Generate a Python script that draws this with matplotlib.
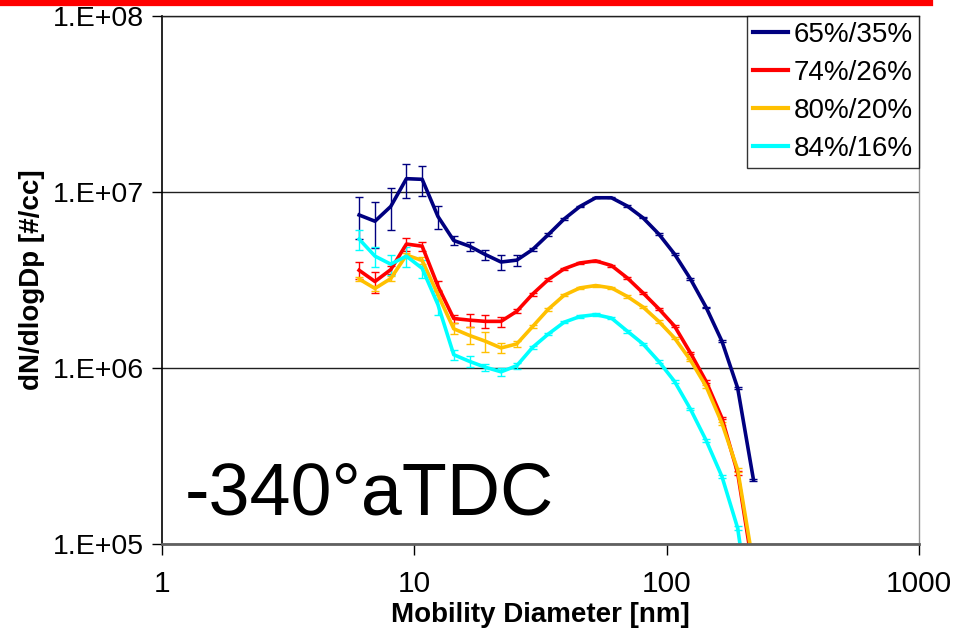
import math
import matplotlib
matplotlib.use("Agg")
import matplotlib.pyplot as plt
from matplotlib.ticker import FixedLocator, FuncFormatter, NullLocator
from matplotlib.lines import Line2D

plt.rcParams['font.family'] = ['Liberation Sans', 'DejaVu Sans']

# mobility diameters of the SMPS bins [nm]
diam = [6.04, 6.98, 8.06, 9.30, 10.74, 12.40, 14.32, 16.54, 19.10, 22.06,
        25.47, 29.42, 33.97, 39.23, 45.30, 52.32, 60.41, 69.76, 80.56, 93.03,
        107.4, 124.1, 143.3, 165.5, 191.1, 220.7]

labels = ['65%/35%', '74%/26%', '80%/20%', '84%/16%']
colors = ['#000080', '#FF0000', '#FFC000', '#00FFFF']

dn_65 = [7.40e6, 6.82e6, 8.27e6, 1.19e7, 1.18e7, 7.26e6, 5.30e6, 4.92e6, 4.41e6, 4.00e6,
         4.10e6, 4.71e6, 5.73e6, 7.02e6, 8.27e6, 9.27e6, 9.27e6, 8.32e6, 7.13e6, 5.77e6,
         4.44e6, 3.21e6, 2.21e6, 1.42e6, 7.69e5, 2.32e5]
err_65 = [2.0e6, 2.0e6, 2.2e6, 2.6e6, 2.3e6, 1.1e6, 3.0e5, 3.0e5, 3.0e5, 3.8e5,
          3.0e5, 1.0e5, 8.0e4, 8.0e4, 8.0e4, 7.0e4, 7.0e4, 7.0e4, 6.0e4, 5.0e4,
          4.0e4, 3.0e4, 2.0e4, 1.5e4, 8.0e3, 3.0e3]

dn_74 = [3.59e6, 3.10e6, 3.62e6, 5.06e6, 4.92e6, 2.92e6, 1.91e6, 1.87e6, 1.84e6, 1.84e6,
         2.10e6, 2.63e6, 3.18e6, 3.66e6, 3.95e6, 4.06e6, 3.82e6, 3.25e6, 2.67e6, 2.17e6,
         1.73e6, 1.22e6, 8.39e5, 5.20e5, 2.53e5, 6.9e4]
err_74 = [4.0e5, 4.2e5, 2.0e5, 4.2e5, 3.0e5, 2.0e5, 1.0e5, 1.5e5, 1.6e5, 1.2e5,
          6.0e4, 5.0e4, 5.0e4, 5.0e4, 5.0e4, 5.0e4, 5.0e4, 5.0e4, 4.0e4, 3.0e4,
          3.0e4, 2.0e4, 1.5e4, 1.0e4, 6.0e3, 2.0e3]

dn_80 = [3.20e6, 2.83e6, 3.22e6, 4.38e6, 4.08e6, 2.61e6, 1.67e6, 1.53e6, 1.42e6, 1.30e6,
         1.37e6, 1.72e6, 2.16e6, 2.59e6, 2.85e6, 2.94e6, 2.85e6, 2.55e6, 2.22e6, 1.84e6,
         1.48e6, 1.11e6, 7.86e5, 4.86e5, 2.64e5, 7.6e4]
err_80 = [1.0e5, 1.0e5, 1.0e5, 1.5e5, 2.0e5, 1.5e5, 1.2e5, 1.7e5, 1.8e5, 8.0e4,
          6.0e4, 4.0e4, 4.0e4, 4.0e4, 4.0e4, 4.0e4, 4.0e4, 4.0e4, 3.0e4, 3.0e4,
          2.5e4, 2.0e4, 1.5e4, 1.0e4, 6.0e3, 2.0e3]

dn_84 = [5.40e6, 4.32e6, 3.89e6, 4.32e6, 3.68e6, 2.29e6, 1.19e6, 1.09e6, 1.01e6, 9.51e5,
         1.03e6, 1.31e6, 1.56e6, 1.82e6, 1.96e6, 2.01e6, 1.92e6, 1.62e6, 1.37e6, 1.09e6,
         8.39e5, 5.85e5, 3.88e5, 2.42e5, 1.23e5, 3.0e4]
err_84 = [7.0e5, 5.8e5, 5.0e5, 5.5e5, 4.5e5, 3.0e5, 8.0e4, 8.0e4, 5.0e4, 5.0e4,
          4.0e4, 3.0e4, 3.0e4, 3.0e4, 3.0e4, 3.0e4, 3.0e4, 3.0e4, 2.5e4, 2.0e4,
          1.5e4, 1.0e4, 8.0e3, 5.0e3, 3.0e3, 1.0e3]

series = [dn_65, dn_74, dn_80, dn_84]
errors = [err_65, err_74, err_80, err_84]

fig = plt.figure(figsize=(9.72, 6.34), dpi=100)
ax = fig.add_axes([0.1667, 0.142, 0.7788, 0.8328])

handles = []
for vals, err, col, lab in zip(series, errors, colors, labels):
    cont = ax.errorbar(diam, vals, yerr=err, fmt='-', color=col, lw=2.6,
                       elinewidth=1.0, capsize=3, capthick=1.0, label=lab)
    handles.append(cont.lines[0])

ax.set_xscale('log')
ax.set_yscale('log')
ax.set_xlim(1, 1000)
ax.set_ylim(1e5, 1e8)

ax.xaxis.set_major_locator(FixedLocator([1, 10, 100, 1000]))
ax.xaxis.set_minor_locator(NullLocator())
ax.xaxis.set_major_formatter(FuncFormatter(lambda v, p: '%d' % round(v)))
ax.yaxis.set_major_locator(FixedLocator([1e5, 1e6, 1e7, 1e8]))
ax.yaxis.set_minor_locator(NullLocator())
ax.yaxis.set_major_formatter(
    FuncFormatter(lambda v, p: '1.E+%02d' % round(math.log10(v))))

ax.grid(axis='y', color='#202020', lw=1.0)
ax.tick_params(axis='both', direction='out', colors='black')
ax.tick_params(axis='y', length=7, width=1, pad=6, labelsize=20.5)
ax.tick_params(axis='x', length=8, width=1, pad=11, labelsize=21.5)

ax.spines['left'].set_color('black')
ax.spines['left'].set_linewidth(1.2)
ax.spines['bottom'].set_color('#606060')
ax.spines['bottom'].set_linewidth(2.0)
ax.spines['right'].set_color('#909090')
ax.spines['right'].set_linewidth(1.0)
ax.spines['top'].set_color('#202020')
ax.spines['top'].set_linewidth(1.0)

ax.set_xlabel('Mobility Diameter [nm]', fontsize=20, fontweight='bold')
ax.set_ylabel('dN/dlogDp [#/cc]', fontsize=20, fontweight='bold')
ax.xaxis.set_label_coords(0.5, -0.109)
ax.yaxis.set_label_coords(-0.155, 0.5)

ax.text(0.030, 0.055, '-340\u00b0aTDC', transform=ax.transAxes,
        fontsize=53, ha='left', va='baseline')

leg = ax.legend(handles, labels, loc='upper right', fontsize=20, frameon=True,
                fancybox=False, borderaxespad=0, handlelength=1.26,
                handletextpad=0.22, labelspacing=0.43, borderpad=0.22)
leg.get_frame().set_edgecolor('black')
leg.get_frame().set_linewidth(1.0)
for h in leg.legend_handles:
    h.set_linewidth(3.0)

fig.add_artist(Line2D([0, 0.957], [0.995, 0.995], transform=fig.transFigure,
                      color='#FF0000', lw=4.5))

fig.savefig('out.png', dpi=100)
